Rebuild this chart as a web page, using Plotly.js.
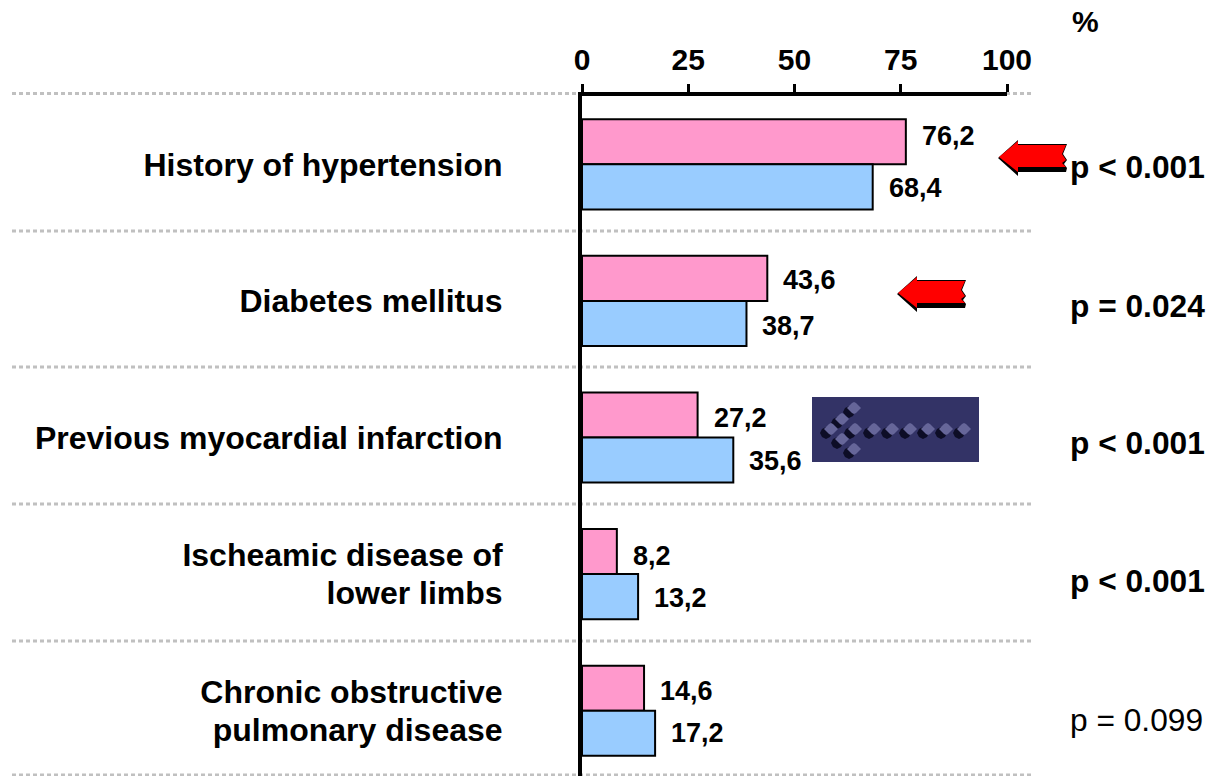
<!DOCTYPE html>
<html><head><meta charset="utf-8">
<script src="https://cdn.plot.ly/plotly-3.0.1.min.js"></script>
<style>html,body{margin:0;padding:0;background:#fff;overflow:hidden}</style>
</head><body><div id="chart" style="width:1229px;height:776px"></div>
<script>
const categories = ["History of hypertension","Diabetes mellitus","Previous myocardial infarction","Ischeamic disease of<br>lower limbs","Chronic obstructive<br>pulmonary disease"];
const pinkValues = [76.2,43.6,27.2,8.2,14.6];
const blueValues = [68.4,38.7,35.6,13.2,17.2];
const pLabels = ["p < 0.001","p = 0.024","p < 0.001","p < 0.001","p = 0.099"];
const pBold = [true,true,true,true,false];
const pY = [167,306,443,581,720];
const pinkLabelShift = [-6,2,3,4,3];
const blueLabelShift = [1,3,1,1,0];
const xTicks = [0,25,50,75,100];
const catPos = [0,1,2,3,4];

const F = "Liberation Sans, Arial, sans-serif";
const L=582,W=425,T=96,H=680;
const px = x => (x-L)/W;
const py = y => 1-(y-T)/H;
const pt = (x,y) => px(x)+","+py(y);
const dec = v => v.toFixed(1).replace(".",",");
const poly = (pts,fill,lw) => ({type:"path",xref:"paper",yref:"paper",layer:"above",
  path:"M"+pts.map(p=>pt(p[0],p[1])).join("L")+"Z",fillcolor:fill,line:{width:lw||0,color:fill}});
const place = (pts,x,y) => pts.map(p=>[p[0]+x,p[1]+y]);

const arrow = [[0,0],[19,-16],[19,-12],[67,-12],[63,-3],[67,3],[63,6],[67,10],[19,10],[19,15]];
const arrowBack = [[-1,1],[19,-17],[19,-13],[68,-13],[64,-3],[68,3],[65,7],[68,11],[67,15],[19,15],[19,19]];
const shapes=[];
[93.5,231,367,504,641,775].forEach(y=>shapes.push({type:"line",xref:"paper",yref:"paper",layer:"below",
  x0:px(12),x1:px(1033),y0:py(y),y1:py(y),line:{color:"#c0c0c0",width:3,dash:"4px,3px"}}));
[[999,157],[898,293]].forEach(a=>{
  shapes.push(poly(place(arrowBack,a[0],a[1]),"#000"));
  shapes.push(poly(place(arrow,a[0],a[1]),"#ff0000"));
});
shapes.push(poly([[812,397],[979,397],[979,462],[812,462]],"#333366"));
const dots=[[831,429],[855,429],[874,429],[892,429],[910,429],[928,429],[946,429],[964,429],[854,408],[842,419],[842,439],[854,449]];
const dia=[[0,-6],[2,-5],[7,0],[2,5],[0,6],[-2,5],[-7,0],[-2,-5]];
const circ=[[0,-6],[4,-4],[6,0],[4,4],[0,6],[-4,4],[-6,0],[-4,-4]];
dots.forEach(d=>shapes.push(poly(place(circ,d[0]-5,d[1]+4),"#0d0d26")));
dots.forEach(d=>shapes.push(poly(place(dia,d[0],d[1]),"#666699")));

const annotations=[];
catPos.forEach((c,i)=>{
  annotations.push({x:pinkValues[i],y:c-0.165,xref:"x",yref:"y",text:dec(pinkValues[i]),showarrow:false,xanchor:"left",yanchor:"middle",xshift:14,yshift:-pinkLabelShift[i],font:{family:F,size:27,color:"#000",weight:"bold"}});
  annotations.push({x:blueValues[i],y:c+0.165,xref:"x",yref:"y",text:dec(blueValues[i]),showarrow:false,xanchor:"left",yanchor:"middle",xshift:14,yshift:-blueLabelShift[i],font:{family:F,size:27,color:"#000",weight:"bold"}});
  annotations.push({x:px(1068),y:py(pY[i]),xref:"paper",yref:"paper",text:pLabels[i],showarrow:false,xanchor:"left",yanchor:"middle",font:{family:F,size:31.7,color:"#000",weight:pBold[i]?"bold":"normal"}});
});
annotations.push({x:px(1085),y:py(22),xref:"paper",yref:"paper",text:"%",showarrow:false,xanchor:"center",yanchor:"middle",font:{family:F,size:30,color:"#000",weight:"bold"}});

// two-line labels are drawn as one tick per line to hold the reference's tight line spacing
const labelVals=[],labelText=[];
categories.forEach((c,i)=>{
  const lines=c.split("<br>");
  lines.forEach((t,j)=>{labelVals.push(catPos[i]+(j-(lines.length-1)/2)*0.28);labelText.push(t);});
});

const bar=(name,vals,col)=>({type:"bar",orientation:"h",name,x:vals,y:catPos,marker:{color:col,line:{color:"#000",width:2}},hoverinfo:"x"});
Plotly.newPlot("chart",[bar("Pink",pinkValues,"#ff99cc"),bar("Blue",blueValues,"#99ccff")],{
  width:1229,height:776,showlegend:false,paper_bgcolor:"#fff",plot_bgcolor:"rgba(0,0,0,0)",
  margin:{l:L,r:1229-L-W,t:T,b:776-T-H,pad:0},barmode:"group",bargap:0.34,bargroupgap:0,
  xaxis:{side:"top",range:[0,100],tickmode:"array",tickvals:xTicks,ticktext:xTicks.map(String),showgrid:false,zeroline:false,
    showline:true,linecolor:"#000",linewidth:4,ticks:"outside",ticklen:8,tickwidth:3,tickcolor:"#000",ticklabelstandoff:2,
    tickfont:{family:F,size:30,color:"#000",weight:"bold"}},
  yaxis:{range:[4.478,-0.5],tickmode:"array",tickvals:labelVals,ticktext:labelText,showgrid:false,zeroline:false,
    showline:true,linecolor:"#000",linewidth:4,ticks:"",ticklabelstandoff:69,
    tickfont:{family:F,size:32,color:"#000",weight:"bold"}},
  shapes,annotations
},{displayModeBar:false,staticPlot:true});
</script></body></html>
